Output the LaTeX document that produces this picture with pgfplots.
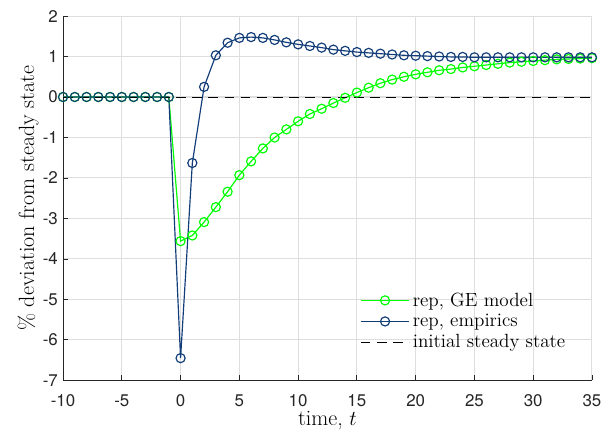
\documentclass[border=0pt]{standalone}
\usepackage{fontspec}
\usepackage{pgfplots}
\pgfplotsset{compat=1.18}
\newfontfamily\helv{TeX Gyre Heros}
\definecolor{gemodel}{rgb}{0,1,0}
\definecolor{empblue}{rgb}{0.07,0.24,0.47}
\definecolor{gridgray}{gray}{0.87}
\definecolor{axgray}{gray}{0.15}
\begin{document}
\begin{tikzpicture}
\begin{axis}[
  scale only axis,
  width=360pt, height=248pt,
  xmin=-10, xmax=35, ymin=-7, ymax=2,
  xtick={-10,-5,...,35}, ytick={-7,-6,...,2},
  axis x line*=bottom, axis y line*=left,
  axis line style={axgray, line width=0.6pt, -},
  tick align=inside,
  major tick length=3.4pt,
  tick style={axgray, line width=0.6pt},
  grid=major,
  major grid style={gridgray, line width=0.7pt},
  /pgf/number format/assume math mode=true,
  ticklabel style={font=\helv\fontsize{11.5}{13}\selectfont, text=black!85},
  xticklabel style={yshift=-6pt},
  yticklabel style={xshift=0pt},
  xlabel={time, $t$},
  ylabel={\% deviation from steady state},
  label style={font=\fontsize{15}{17}\selectfont},
  xlabel style={yshift=4pt},
  ylabel style={yshift=-4pt},
  legend style={draw=none, fill=none, at={(0.553,0.258)}, anchor=north west,
    font=\fontsize{13}{15}\selectfont, row sep=0pt,
    /tikz/every even column/.append style={column sep=1pt}},
  legend cell align=left,
  legend image code/.code={\draw[mark repeat=2,mark phase=2,#1] plot coordinates {(0cm,0cm) (0.58cm,0cm) (1.16cm,0cm)};},
  every axis plot/.append style={line width=0.8pt},
]
\addplot[gemodel, mark=o, mark size=3.1pt] coordinates {
(-10,0) (-9,0) (-8,0) (-7,0) (-6,0) (-5,0) (-4,0) (-3,0) (-2,0) (-1,0)
(0,-3.56) (1,-3.42) (2,-3.09) (3,-2.72) (4,-2.34) (5,-1.93) (6,-1.59) (7,-1.27)
(8,-1.00) (9,-0.80) (10,-0.60) (11,-0.42) (12,-0.29) (13,-0.15) (14,-0.02)
(15,0.11) (16,0.23) (17,0.34) (18,0.43) (19,0.50) (20,0.56) (21,0.61) (22,0.66)
(23,0.69) (24,0.73) (25,0.76) (26,0.79) (27,0.82) (28,0.85) (29,0.87) (30,0.89)
(31,0.91) (32,0.93) (33,0.94) (34,0.95) (35,0.96)
};
\addlegendentry{rep, GE model}
\addplot[empblue, mark=o, mark size=3.1pt] coordinates {
(-10,0) (-9,0) (-8,0) (-7,0) (-6,0) (-5,0) (-4,0) (-3,0) (-2,0) (-1,0)
(0,-6.45) (1,-1.63) (2,0.25) (3,1.03) (4,1.34) (5,1.46) (6,1.48) (7,1.46)
(8,1.41) (9,1.35) (10,1.30) (11,1.26) (12,1.22) (13,1.17) (14,1.14) (15,1.11)
(16,1.09) (17,1.07) (18,1.05) (19,1.03) (20,1.02) (21,1.01) (22,1.00) (23,0.99)
(24,0.99) (25,0.98) (26,0.98) (27,0.98) (28,0.98) (29,0.98) (30,0.98) (31,0.98)
(32,0.98) (33,0.98) (34,0.98) (35,0.98)
};
\addlegendentry{rep, empirics}
\addplot[black, dash pattern=on 6.5pt off 4.5pt, line width=0.6pt] coordinates {(-10,0) (35,0)};
\addlegendentry{initial steady state}
\end{axis}
\pgfresetboundingbox
\path (-42.9pt,-34pt) rectangle (367.5pt,258.9pt);
\end{tikzpicture}
\end{document}
